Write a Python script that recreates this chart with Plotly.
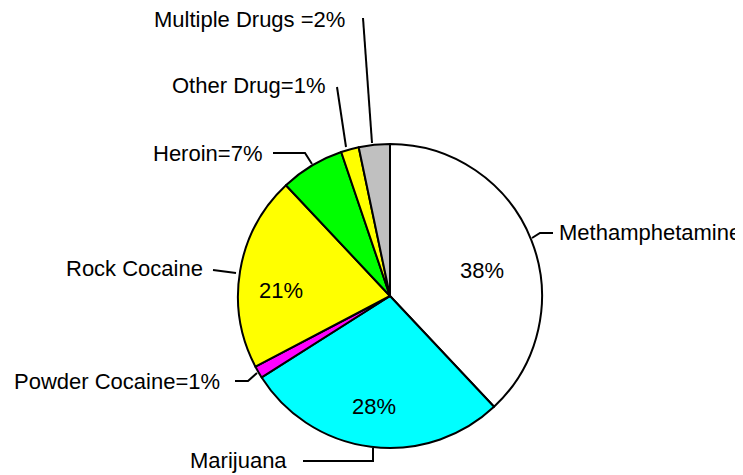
import plotly.graph_objects as go

# The page adds an 8px body margin; coordinates below are window pixels.
OFF = 8
W, H = 743, 475

categories = ["Methamphetamine", "Marijuana", "Powder Cocaine", "Rock Cocaine",
              "Heroin", "Other Drug", "Multiple Drugs"]
values = [38.0, 28.0, 1.3, 20.7, 6.8, 1.9, 3.3]
inside_text = ["38%", "28%", "", "21%", "", "", ""]
outside_text = ["Methamphetamine", "Marijuana", "Powder Cocaine=1%", "Rock Cocaine",
                "Heroin=7%", "Other Drug=1%", "Multiple Drugs =2%"]
colors = ["#FFFFFF", "#00FFFF", "#FF00FF", "#FFFF00", "#00FF00", "#FFFF00", "#C0C0C0"]

FONT = "Liberation Sans, Arial, sans-serif"
FS = 22

def px(x):
    return (x - OFF) / W

def py(y):
    return 1 - (y - OFF) / H

cx, cy, r = 390, 296, 152

fig = go.Figure(go.Pie(
    labels=categories,
    values=values,
    textinfo="none",
    marker=dict(colors=colors, line=dict(color="black", width=2)),
    sort=False,
    direction="clockwise",
    rotation=0,
    hole=0,
    domain=dict(x=[px(cx - r), px(cx + r)], y=[py(cy + r), py(cy - r)]),
    showlegend=False,
    hoverinfo="label+percent",
))

# label placement (layout), per category
label_pos = {
    "Methamphetamine": (558, 233, "left"),
    "Marijuana": (288, 460, "right"),
    "Powder Cocaine": (221, 381, "right"),
    "Rock Cocaine": (204, 268, "right"),
    "Heroin": (263, 153, "right"),
    "Other Drug": (326, 85, "right"),
    "Multiple Drugs": (346, 19, "right"),
}
inside_pos = {
    "Methamphetamine": (482, 270),
    "Marijuana": (374, 406),
    "Rock Cocaine": (281, 290),
}
leaders = {
    "Methamphetamine": [(553, 233), (540, 233), (532, 238)],
    "Marijuana": [(303, 461), (373, 461), (373, 448)],
    "Powder Cocaine": [(235, 381), (248, 381), (257, 373)],
    "Rock Cocaine": [(213, 270), (236, 273)],
    "Heroin": [(273, 153), (305, 153), (312, 164)],
    "Other Drug": [(337, 87), (346, 147)],
    "Multiple Drugs": [(363, 18), (372, 143)],
}

annotations = []
shapes = []
for cat, txt, itxt in zip(categories, outside_text, inside_text):
    x, y, anc = label_pos[cat]
    annotations.append(dict(
        x=px(x), y=py(y), xref="paper", yref="paper", text=txt,
        showarrow=False, xanchor=anc, yanchor="middle",
        font=dict(family=FONT, size=FS, color="black"), borderpad=0,
    ))
    if itxt:
        ix, iy = inside_pos[cat]
        annotations.append(dict(
            x=px(ix), y=py(iy), xref="paper", yref="paper", text=itxt,
            showarrow=False, xanchor="center", yanchor="middle",
            font=dict(family=FONT, size=FS, color="black"), borderpad=0,
        ))
    pts = leaders[cat]
    path = "M " + " L ".join(f"{px(a)},{py(b)}" for a, b in pts)
    shapes.append(dict(type="path", path=path, xref="paper", yref="paper",
                       line=dict(color="black", width=2)))

fig.update_layout(
    width=W, height=H,
    margin=dict(l=0, r=0, t=0, b=0),
    paper_bgcolor="white",
    plot_bgcolor="white",
    annotations=annotations,
    shapes=shapes,
)

fig.write_html("out.html")
